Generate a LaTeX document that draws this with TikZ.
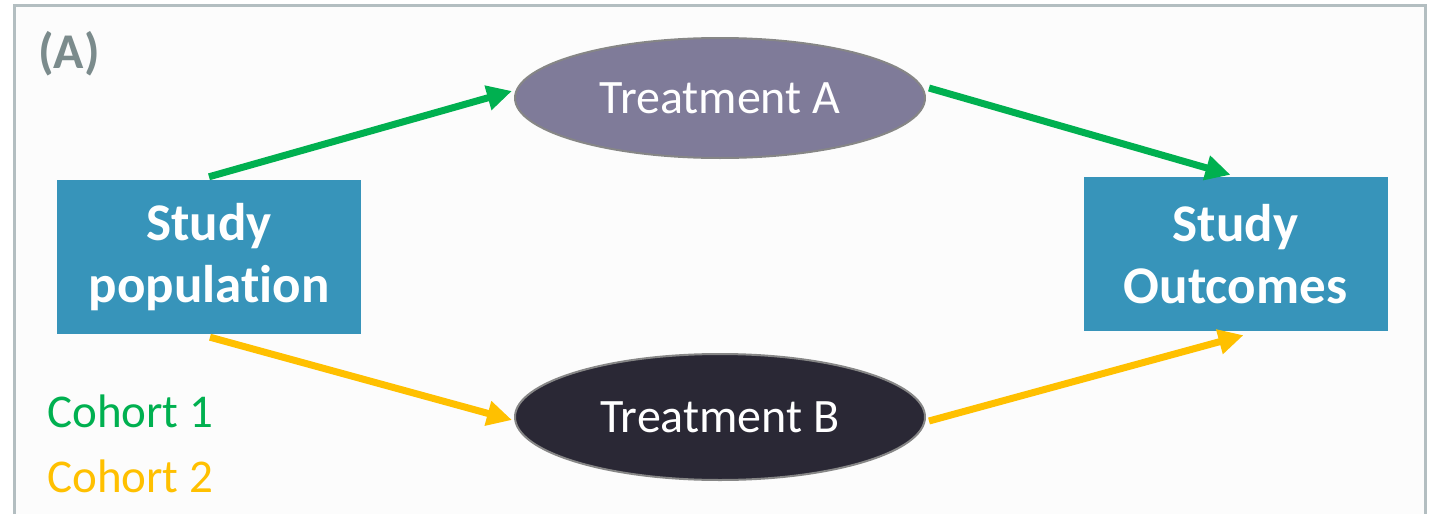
\documentclass[tikz,border=0pt]{standalone}
\usepackage{fontspec}
\setmainfont{Carlito}[Ligatures=NoCommon]
\usetikzlibrary{arrows.meta,shapes.geometric}
\definecolor{boxblue}{HTML}{3794BA}
\definecolor{ellA}{HTML}{7F7B99}
\definecolor{ellB}{HTML}{2A2835}
\definecolor{cgreen}{HTML}{00B050}
\definecolor{cyellow}{HTML}{FFC000}
\definecolor{framegray}{HTML}{B3BEC1}
\definecolor{labgray}{HTML}{7B8B8C}
\definecolor{bggray}{HTML}{FCFCFC}
\tikzset{
  stbox/.style={fill=boxblue, text=white, minimum width=304pt, minimum height=154pt,
    inner sep=0pt, align=center, font=\fontsize{53}{62}\selectfont\bfseries},
  treat/.style={ellipse, draw=gray!95, line width=2pt, text=white, inner sep=0pt,
    minimum width=410pt, font=\fontsize{48}{58}\selectfont},
  conn/.style={line width=7pt, -{Triangle[length=25pt,width=24pt]}},
  cohort/.style={anchor=west, inner sep=0pt, font=\fontsize{47}{56}\selectfont},
}
\begin{document}
\begin{tikzpicture}[x=1pt,y=-1pt]
\useasboundingbox (0,0) rectangle (1431,514);
\fill[white] (0,0) rectangle (1431,514);
\fill[bggray] (14,5) rectangle (1425,514);
\draw[framegray, line width=3pt] (14,514) -- (14,5) -- (1425,5) -- (1425,514);
\node[anchor=west, inner sep=0pt, text=labgray, font=\fontsize{50}{60}\selectfont\bfseries] (lab) at (38,54) {(A)};
\node[stbox] (sp) at (209,257) {Study\\population};
\node[stbox] (so) at (1235.5,254) {Study\\Outcomes};
\node[treat, fill=ellA, minimum height=120pt] (ta) at (720,98) {Treatment A};
\node[treat, fill=ellB, minimum height=126pt] (tb) at (720,417) {Treatment B};
\node[cohort, text=cgreen] (c1) at (47,411) {Cohort 1};
\node[cohort, text=cyellow] (c2) at (47,476) {Cohort 2};
\draw[conn, cgreen] ([yshift=3pt]sp.north) -- ([xshift=-2pt,yshift=7pt]ta.west);
\draw[conn, cgreen] ([xshift=3pt,yshift=10pt]ta.east) -- ([xshift=-5pt,yshift=2pt]so.north);
\draw[conn, cyellow] ([xshift=1pt,yshift=-3pt]sp.south) -- ([xshift=-2pt,yshift=-3pt]tb.west);
\draw[conn, cyellow] ([xshift=3pt,yshift=-4pt]tb.east) -- ([xshift=8pt,yshift=-4pt]so.south);
\end{tikzpicture}
\end{document}
